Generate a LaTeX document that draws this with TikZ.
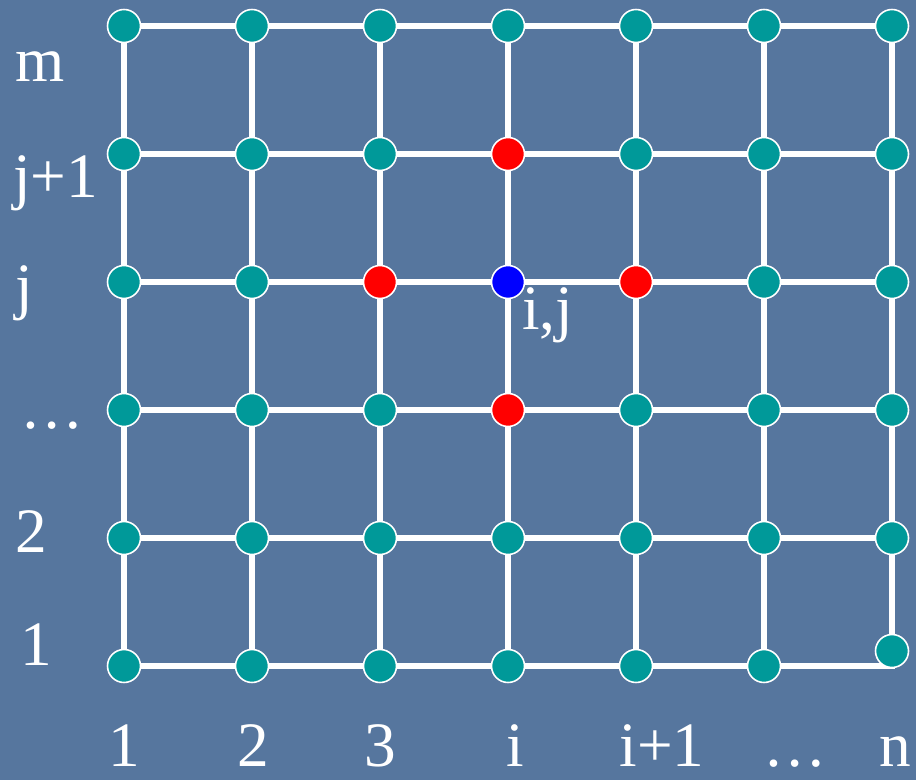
\documentclass[tikz,border=0pt]{standalone}
\usepackage{fontspec}
\setmainfont{Liberation Serif}
\usetikzlibrary{positioning}
\definecolor{slate}{RGB}{86,118,158}
\definecolor{gridteal}{RGB}{0,153,153}

\begin{document}
\begin{tikzpicture}[x=0.02cm, y=-0.02cm]
        \tikzset{pt/.style={circle, draw=white, line width=0.9pt, fill=gridteal, minimum size=0.66cm, inner sep=0pt},
                 pt 4-4/.style={fill=blue},
                 pt 4-5/.style={fill=red}, pt 3-4/.style={fill=red},
                 pt 5-4/.style={fill=red}, pt 4-3/.style={fill=red},
                 pt 7-1/.style={yshift=0.3cm},
                 link/.style={draw=white, line width=3.6pt, line cap=rect},
                 lbl/.style={text=white, inner sep=0pt, font=\fontsize{36}{40}\selectfont}}
        \fill[slate] (0,0) rectangle (916,780);
        % grid points
        \foreach \i in {1,...,7}
            \foreach \j in {1,...,6}
                \coordinate (g-\i-\j) at ({124+128*(\i-1)},{666-128*(\j-1)});
        % lines
        \foreach \j in {1,...,6}
            \foreach \i/\k in {1/2,2/3,3/4,4/5,5/6,6/7}
                \draw[link] (g-\i-\j) -- (g-\k-\j);
        \foreach \i in {1,...,7}
            \foreach \j/\k in {1/2,2/3,3/4,4/5,5/6}
                \draw[link] (g-\i-\j) -- (g-\i-\k);
        % nodes
        \foreach \i in {1,...,7}
            \foreach \j in {1,...,6}
                \node[pt, pt \i-\j/.try] (n-\i-\j) at (g-\i-\j) {};
        \node[lbl, anchor=base west] (ij) at (522,330) {i,j};
        % row labels
        \node[lbl, anchor=base west] (rm) at (15,82) {m};
        \node[lbl, anchor=base west] (rj1) at (13,198) {j+1};
        \node[lbl, anchor=base west] (rj) at (15,308) {j};
        \node[lbl, anchor=base west] (rdots) at (20,428) {…};
        \node[lbl, anchor=base west] (r2) at (15,552) {2};
        \node[lbl, anchor=base west] (r1) at (20,665) {1};
        % column labels
        \node[lbl, anchor=base] (c1) at (124,766) {1};
        \node[lbl, anchor=base] (c2) at (253,766) {2};
        \node[lbl, anchor=base] (c3) at (380,766) {3};
        \node[lbl, anchor=base] (ci) at (515,766) {i};
        \node[lbl, anchor=base] (ci1) at (662,766) {i+1};
        \node[lbl, anchor=base] (cdots) at (795,766) {…};
        \node[lbl, anchor=base] (cn) at (895,766) {n};
\end{tikzpicture}
\end{document}
